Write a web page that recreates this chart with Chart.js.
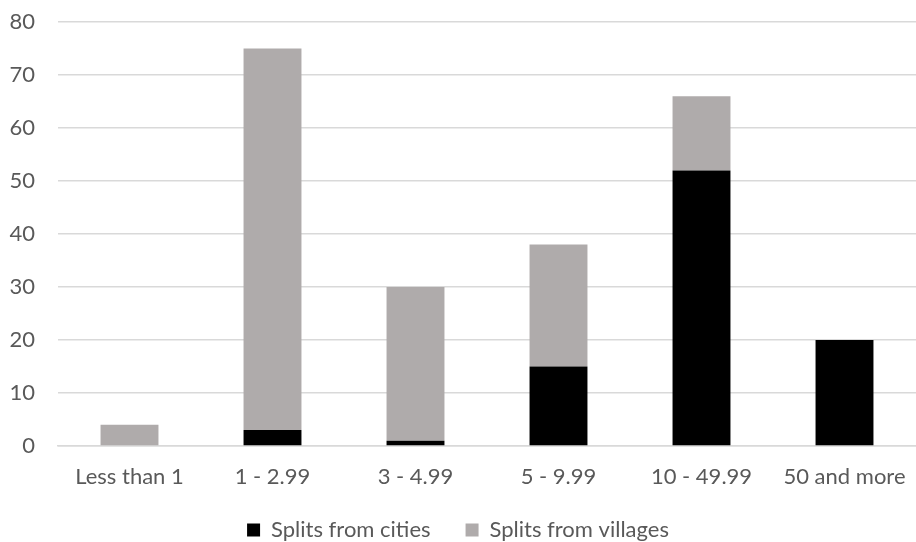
<!DOCTYPE html>
<html>
<head>
<meta charset="utf-8">
<script src="https://cdn.jsdelivr.net/npm/chart.js@4/dist/chart.umd.min.js"></script>
<style>
  html, body { margin: 0; padding: 0; background: #fff; }
  #wrap { width: 916px; height: 542px; position: relative; }
</style>
</head>
<body>
<div id="wrap"><canvas id="splitsChart"></canvas></div>
<script>
// categories and values
const categories = ['Less than 1', '1 - 2.99', '3 - 4.99', '5 - 9.99', '10 - 49.99', '50 and more'];
const fromCities = [0, 3, 1, 15, 52, 20];
const fromVillages = [4, 72, 29, 23, 14, 0];
const yTicks = [0, 10, 20, 30, 40, 50, 60, 70, 80];

const fontFamily = "Lato, 'Open Sans', sans-serif";

const ctx = document.getElementById('splitsChart').getContext('2d');
new Chart(ctx, {
  type: 'bar',
  data: {
    labels: categories,
    datasets: [{
      label: 'Splits from cities',
      data: fromCities,
      backgroundColor: '#000000',
      borderWidth: 0,
      categoryPercentage: 0.405,
      barPercentage: 1
    }, {
      label: 'Splits from villages',
      data: fromVillages,
      backgroundColor: '#afabab',
      borderWidth: 0,
      categoryPercentage: 0.405,
      barPercentage: 1
    }]
  },
  options: {
    responsive: true,
    maintainAspectRatio: false,
    animation: false,
    layout: { padding: 0 },
    plugins: {
      tooltip: { enabled: false },
      legend: {
        position: 'bottom',
        // wide gap between items, short box
        maxHeight: 58,
        labels: {
          color: '#595959',
          font: { family: fontFamily, size: 22, lineHeight: 1 },
          boxWidth: 13,
          boxHeight: 13,
          padding: 35
        }
      }
    },
    scales: {
      x: {
        stacked: true,
        grid: { display: false, drawTicks: false },
        border: { color: '#d9d9d9', width: 1.5 },
        ticks: { color: '#595959', font: { family: fontFamily, size: 22, lineHeight: 1 }, padding: 20 },
        afterFit: function (axis) {
          axis.height = 38;
          axis.paddingRight = 0;
        }
      },
      y: {
        stacked: true,
        min: 0,
        max: 80,
        afterBuildTicks: function (axis) {
          axis.ticks = yTicks.map(function (v) { return { value: v }; });
        },
        afterFit: function (axis) {
          axis.width = 58;
          axis.paddingTop = 22;
        },
        grid: { color: '#d9d9d9', lineWidth: 1.5, drawTicks: false },
        border: { display: false },
        ticks: { color: '#595959', font: { family: fontFamily, size: 22 }, padding: 23 }
      }
    }
  }
});
</script>
</body>
</html>
